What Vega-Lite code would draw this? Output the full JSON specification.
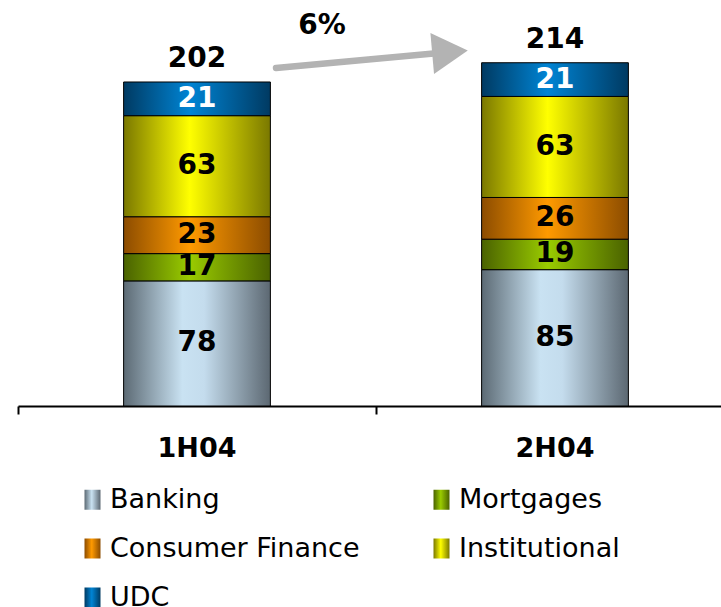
{
  "$schema": "https://vega.github.io/schema/vega-lite/v6.json",
  "width": 716,
  "height": 401,
  "padding": {"left": 17, "top": 5, "right": 0, "bottom": 0},
  "background": "white",
  "config": {"view": {"stroke": null}, "font": "DejaVu Sans"},
  "datasets": {
    "segments": [
      {"period": "1H04", "series": "Banking", "ord": 1, "value": 78},
      {"period": "1H04", "series": "Mortgages", "ord": 2, "value": 17},
      {"period": "1H04", "series": "Consumer Finance", "ord": 3, "value": 23},
      {"period": "1H04", "series": "Institutional", "ord": 4, "value": 63},
      {"period": "1H04", "series": "UDC", "ord": 5, "value": 21},
      {"period": "2H04", "series": "Banking", "ord": 1, "value": 85},
      {"period": "2H04", "series": "Mortgages", "ord": 2, "value": 19},
      {"period": "2H04", "series": "Consumer Finance", "ord": 3, "value": 26},
      {"period": "2H04", "series": "Institutional", "ord": 4, "value": 63},
      {"period": "2H04", "series": "UDC", "ord": 5, "value": 21}
    ],
    "totals": [
      {"period": "1H04", "total": 202},
      {"period": "2H04", "total": 214}
    ],
    "arrow": [
      {"ax": 0.7207, "ay": 210.7},
      {"ax": 1.176, "ay": 220.1}
    ],
    "head": [{"ax": 1.2067, "ay": 220.7}],
    "growth": [{"ax": 0.849, "ay": 237.0, "label": "6%"}]
  },
  "layer": [
    {
      "layer": [
        {
          "data": {"name": "segments"},
          "mark": {"type": "bar", "width": {"band": 0.41}, "stroke": "black", "strokeWidth": 1},
          "encoding": {
            "x": {
              "field": "period", "type": "nominal",
              "scale": {"paddingInner": 0, "paddingOuter": 0},
              "axis": {
                "title": null, "labelAngle": 0, "labelFont": "DejaVu Sans", "labelFontWeight": "bold",
                "labelFontSize": 27, "labelColor": "black", "domainColor": "black", "domainWidth": 2,
                "tickColor": "black", "tickWidth": 2, "tickSize": 8, "bandPosition": 0,
                "labelPadding": 21, "grid": false
              }
            },
            "y": {"field": "value", "type": "quantitative", "stack": "zero", "scale": {"domain": [0, 250], "nice": false}, "axis": null},
            "order": {"field": "ord", "type": "quantitative"},
            "color": {
              "condition": [
                {"test": "datum.series === 'Banking'", "value": {"gradient": "linear", "x1": 0, "y1": 0, "x2": 1, "y2": 0, "stops": [{"offset": 0, "color": "#5c6a74"}, {"offset": 0.4, "color": "#c9e2f2"}, {"offset": 0.55, "color": "#c4dced"}, {"offset": 1, "color": "#5c6872"}]}},
                {"test": "datum.series === 'Mortgages'", "value": {"gradient": "linear", "x1": 0, "y1": 0, "x2": 1, "y2": 0, "stops": [{"offset": 0, "color": "#4a6200"}, {"offset": 0.45, "color": "#9acc00"}, {"offset": 1, "color": "#4a6200"}]}},
                {"test": "datum.series === 'Consumer Finance'", "value": {"gradient": "linear", "x1": 0, "y1": 0, "x2": 1, "y2": 0, "stops": [{"offset": 0, "color": "#8c4c00"}, {"offset": 0.45, "color": "#ff9a00"}, {"offset": 1, "color": "#8c4c00"}]}},
                {"test": "datum.series === 'Institutional'", "value": {"gradient": "linear", "x1": 0, "y1": 0, "x2": 1, "y2": 0, "stops": [{"offset": 0, "color": "#7a7800"}, {"offset": 0.45, "color": "#ffff00"}, {"offset": 1, "color": "#7a7800"}]}}
              ],
              "value": {"gradient": "linear", "x1": 0, "y1": 0, "x2": 1, "y2": 0, "stops": [{"offset": 0, "color": "#003a62"}, {"offset": 0.45, "color": "#0084d4"}, {"offset": 1, "color": "#003a62"}]}
            }
          }
        },
        {
          "data": {"name": "segments"},
          "mark": {"type": "point", "opacity": 0, "filled": true},
          "encoding": {
            "x": {"field": "period", "type": "nominal"},
            "y": {"field": "value", "type": "quantitative", "scale": {"domain": [0, 250], "nice": false}},
            "shape": {
              "field": "series", "type": "nominal",
              "scale": {
                "domain": ["Banking", "Mortgages", "Consumer Finance", "Institutional", "UDC"],
                "range": ["M-0.8,-1H0.8V1H-0.8Z", "M-0.8,-1H0.8V1H-0.8Z", "M-0.8,-1H0.8V1H-0.8Z", "M-0.8,-1H0.8V1H-0.8Z", "M-0.8,-1H0.8V1H-0.8Z"]
              },
              "legend": {
                "title": null, "orient": "none", "legendX": 61, "legendY": 481, "columns": 2,
                "direction": "horizontal", "symbolSize": 400,
                "symbolStrokeWidth": 0, "symbolOpacity": 1, "labelFont": "DejaVu Sans", "labelFontSize": 27,
                "labelColor": "black", "labelOffset": 4, "rowPadding": 21, "columnPadding": 68,
                "labelLimit": 400,
                "encoding": {
                  "symbols": {
                    "opacity": {"value": 1},
                    "stroke": {"value": "transparent"},
                    "fill": {
                      "condition": [
                        {"test": "datum.value === 'Banking'", "value": {"gradient": "linear", "x1": 0, "y1": 0, "x2": 1, "y2": 0, "stops": [{"offset": 0, "color": "#5c6a74"}, {"offset": 0.45, "color": "#c9e2f2"}, {"offset": 1, "color": "#5c6872"}]}},
                        {"test": "datum.value === 'Mortgages'", "value": {"gradient": "linear", "x1": 0, "y1": 0, "x2": 1, "y2": 0, "stops": [{"offset": 0, "color": "#4a6200"}, {"offset": 0.45, "color": "#9acc00"}, {"offset": 1, "color": "#4a6200"}]}},
                        {"test": "datum.value === 'Consumer Finance'", "value": {"gradient": "linear", "x1": 0, "y1": 0, "x2": 1, "y2": 0, "stops": [{"offset": 0, "color": "#8c4c00"}, {"offset": 0.45, "color": "#ff9a00"}, {"offset": 1, "color": "#8c4c00"}]}},
                        {"test": "datum.value === 'Institutional'", "value": {"gradient": "linear", "x1": 0, "y1": 0, "x2": 1, "y2": 0, "stops": [{"offset": 0, "color": "#7a7800"}, {"offset": 0.45, "color": "#ffff00"}, {"offset": 1, "color": "#7a7800"}]}}
                      ],
                      "value": {"gradient": "linear", "x1": 0, "y1": 0, "x2": 1, "y2": 0, "stops": [{"offset": 0, "color": "#003a62"}, {"offset": 0.45, "color": "#0084d4"}, {"offset": 1, "color": "#003a62"}]}
                    }
                  }
                }
              }
            }
          }
        },
        {
          "data": {"name": "segments"},
          "mark": {"type": "text", "font": "DejaVu Sans", "fontWeight": "bold", "fontSize": 28, "baseline": "middle"},
          "encoding": {
            "x": {"field": "period", "type": "nominal"},
            "y": {"field": "value", "type": "quantitative", "stack": "zero", "bandPosition": 0.5, "scale": {"domain": [0, 250], "nice": false}},
            "order": {"field": "ord", "type": "quantitative"},
            "text": {"field": "value", "type": "quantitative"},
            "color": {"condition": {"test": "datum.series === 'UDC'", "value": "white"}, "value": "black"}
          }
        },
        {
          "data": {"name": "totals"},
          "mark": {"type": "text", "font": "DejaVu Sans", "fontWeight": "bold", "fontSize": 28, "baseline": "alphabetic", "dy": -15, "color": "black"},
          "encoding": {
            "x": {"field": "period", "type": "nominal"},
            "y": {"field": "total", "type": "quantitative", "scale": {"domain": [0, 250], "nice": false}},
            "text": {"field": "total", "type": "quantitative"}
          }
        }
      ]
    },
    {
      "layer": [
        {
          "data": {"name": "arrow"},
          "mark": {"type": "line", "color": "#b3b3b3", "strokeWidth": 6.5, "strokeCap": "round"},
          "encoding": {
            "x": {"field": "ax", "type": "quantitative", "scale": {"domain": [0, 2]}, "axis": null},
            "y": {"field": "ay", "type": "quantitative", "scale": {"domain": [0, 250], "nice": false}}
          }
        },
        {
          "data": {"name": "head"},
          "mark": {"type": "point", "shape": "triangle-right", "filled": true, "color": "#b3b3b3", "size": 1700, "angle": -5, "opacity": 1},
          "encoding": {
            "x": {"field": "ax", "type": "quantitative", "scale": {"domain": [0, 2]}, "axis": null},
            "y": {"field": "ay", "type": "quantitative", "scale": {"domain": [0, 250], "nice": false}}
          }
        },
        {
          "data": {"name": "growth"},
          "mark": {"type": "text", "font": "DejaVu Sans", "fontWeight": "bold", "fontSize": 28, "baseline": "middle", "color": "black"},
          "encoding": {
            "x": {"field": "ax", "type": "quantitative", "scale": {"domain": [0, 2]}, "axis": null},
            "y": {"field": "ay", "type": "quantitative", "scale": {"domain": [0, 250], "nice": false}},
            "text": {"field": "label", "type": "nominal"}
          }
        }
      ]
    }
  ],
  "resolve": {"scale": {"x": "independent"}}
}
